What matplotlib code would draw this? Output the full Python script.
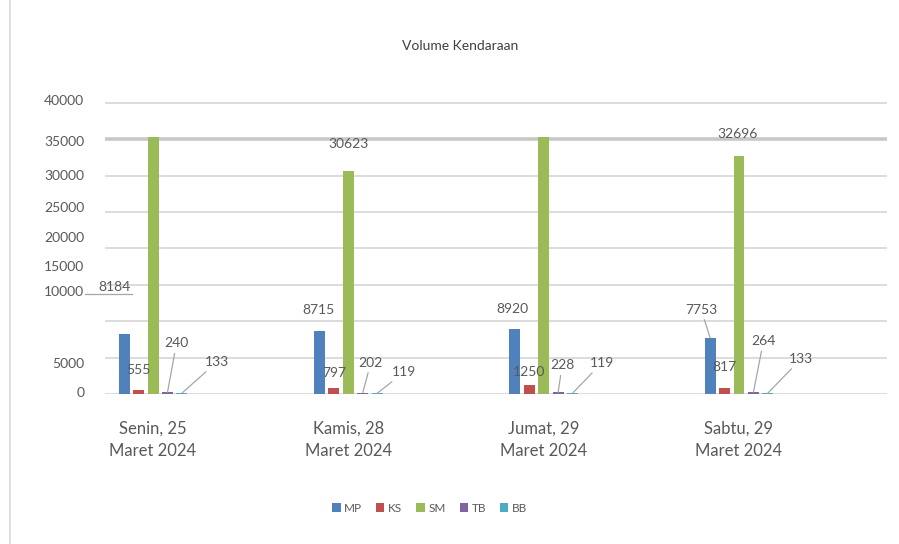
import numpy as np
import matplotlib.pyplot as plt
from matplotlib.lines import Line2D

plt.rcParams['font.family'] = ['Lato', 'DejaVu Sans']

categories = ["Senin, 25\nMaret 2024", "Kamis, 28\nMaret 2024",
              "Jumat, 29\nMaret 2024", "Sabtu, 29\nMaret 2024"]
series = ["MP", "KS", "SM", "TB", "BB"]
mp = [8184, 8715, 8920, 7753]
ks = [555, 797, 1250, 817]
sm = [35300, 30623, 35300, 32696]   # Senin / Jumat run past the top, no label shown
tb = [240, 202, 228, 264]
bb = [133, 119, 119, 133]
values = [mp, ks, sm, tb, bb]
colors = ["#4F81BD", "#C0504D", "#9BBB59", "#8064A2", "#4BACC6"]

# the y labels in the original sit off their gridlines
ytick_pos = [40400, 34700, 30070, 25700, 21630, 17550, 14150, 4220, 270]
ytick_lab = ["40000", "35000", "30000", "25000", "20000", "15000", "10000", "5000", "0"]

# label offsets (pixels) from bar top, None = no label; leader = draw a line
label_off = {
    "MP": [(-10, 47), (-1, 21), (-2, 20), (-9, 28)],
    "KS": [(0, 20), (0, 15), (0, 13), (0, 21)],
    "SM": [None, (0, 27), None, (-1, 22)],
    "TB": [(9, 49), (8, 30), (4, 27), (10, 51)],
    "BB": [(35, 31), (27, 21), (29, 30), (33, 34)],
}
leaders = {"TB", "BB"}

txt = "#595959"
grid = "#d9d9d9"

fig = plt.figure(figsize=(8.99, 5.44), dpi=100)
ax = fig.add_axes([0.1168, 0.2757, 0.8699, 0.5405])

x = np.arange(len(categories))
step = 0.074
width = 0.056

for g in np.arange(0, 40001, 5000):
    lw = 2.6 if g == 35000 else 1.3
    c = "#c8c8c8" if g == 35000 else grid
    ax.axhline(g, color=c, lw=lw, zorder=0)

for i, (name, vals, col) in enumerate(zip(series, values, colors)):
    xs = x + (i - 2) * step
    ax.bar(xs, vals, width=width, color=col, label=name, zorder=2)
    for j, (xx, v) in enumerate(zip(xs, vals)):
        off = label_off[name][j]
        if off is None:
            continue
        ap = None
        if name in leaders or (name == "MP" and j == 3):
            ap = dict(arrowstyle="-", color="#a6a6a6", lw=0.9, shrinkA=1, shrinkB=0)
        ax.annotate(str(v), xy=(xx, v), xytext=off, textcoords="offset pixels",
                    ha="center", va="center", fontsize=10, color=txt,
                    arrowprops=ap, zorder=3)

# stray line under the 8184 label
ax.add_line(Line2D([-0.35, -0.11], [13800, 13800], color="#a6a6a6", lw=0.9,
                   clip_on=False, zorder=3))

ax.set_xlim(-0.246, 3.758)
ax.set_ylim(0, 40000)
ax.set_yticks(ytick_pos, labels=ytick_lab)
ax.set_xticks(x, labels=categories)
ax.tick_params(axis="y", length=0, pad=15, labelsize=10, labelcolor=txt)
ax.tick_params(axis="x", length=0, pad=19, labelsize=12, labelcolor=txt)
for lab in ax.get_xticklabels():
    lab.set_linespacing(1.5)
for s in ax.spines.values():
    s.set_visible(False)

fig.text(0.512, 0.915, "Volume Kendaraan", ha="center", va="center",
         fontsize=10, color="#404040")

fig.add_artist(Line2D([0.0111, 0.0111], [0, 1], color=grid, lw=1.2))

ax.legend(loc="center", bbox_to_anchor=(0.478, 0.066), bbox_transform=fig.transFigure,
          ncol=5, frameon=False, fontsize=8.5, handlelength=0.7, handleheight=0.7,
          handletextpad=0.3, columnspacing=1.2, labelcolor=txt)

fig.savefig("out.png", dpi=100)
